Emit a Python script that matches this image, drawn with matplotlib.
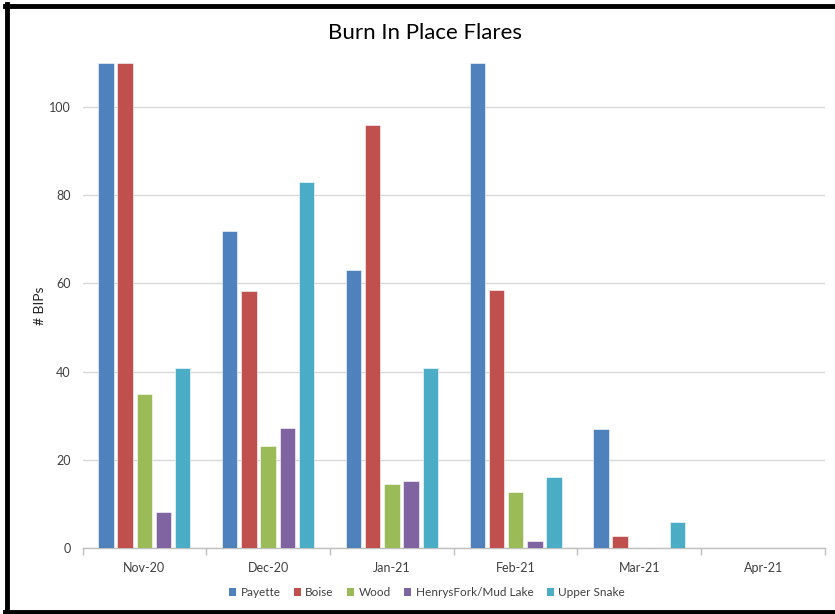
import numpy as np
import matplotlib.pyplot as plt
from matplotlib.lines import Line2D
from matplotlib.patches import Patch

plt.rcParams['font.family'] = ['Lato', 'DejaVu Sans']

months = ["Nov-20", "Dec-20", "Jan-21", "Feb-21", "Mar-21", "Apr-21"]
payette = [110, 72, 63, 110, 27, 0]
boise = [110, 58.4, 96, 58.5, 2.8, 0]
wood = [35, 23.1, 14.5, 12.7, 0, 0]
henrys = [8.1, 27.3, 15.2, 1.7, 0, 0]
upper_snake = [40.8, 83, 40.8, 16.1, 5.9, 0]

series = [
    ("Payette", payette, "#4F81BD"),
    ("Boise", boise, "#C0504D"),
    ("Wood", wood, "#9BBB59"),
    ("HenrysFork/Mud Lake", henrys, "#8064A2"),
    ("Upper Snake", upper_snake, "#4BACC6"),
]

W, H = 835, 614
fig = plt.figure(figsize=(W / 100, H / 100), dpi=100)
ax = fig.add_axes([82.5 / W, 1 - 548 / H, (825 - 82.5) / W, (548 - 63) / H])

x = np.arange(len(months))
pitch = 0.155
for i, (name, vals, col) in enumerate(series):
    ax.bar(x + (i - 2) * pitch, vals, width=0.125, color=col, label=name,
           edgecolor="white", linewidth=0.4, zorder=3)

ax.set_xlim(-0.5, len(months) - 0.5)
ax.set_ylim(0, 110)
ax.set_yticks(range(0, 101, 20))
ax.yaxis.grid(True, color="#D9D9D9", linewidth=1.0, zorder=0)
ax.set_xticks(x)
ax.set_xticklabels(months)
ax.set_xticks(np.arange(-0.5, len(months), 1), minor=True)
ax.tick_params(axis="x", which="major", length=0, pad=10, labelsize=9, colors="#404040")
ax.tick_params(axis="x", which="minor", length=5, color="#BFBFBF", width=1)
ax.tick_params(axis="y", length=0, pad=8.5, labelsize=9, colors="#404040")
for s in ["top", "right", "left"]:
    ax.spines[s].set_visible(False)
ax.spines["bottom"].set_color("#BFBFBF")
ax.spines["bottom"].set_linewidth(1)

fig.text(40 / W, 1 - 306 / H, "# BIPs", fontsize=10, rotation=90,
         ha="center", va="center", color="#262626")
fig.text(425 / W, 1 - 33 / H, "Burn In Place Flares", fontsize=16,
         ha="center", va="center", color="#000000")

handles = [Patch(facecolor=c, edgecolor="none") for _, _, c in series]
fig.legend(handles, [n for n, _, _ in series], loc="center",
           bbox_to_anchor=(427 / W, 1 - 592.5 / H), ncol=5, frameon=False,
           fontsize=8.5, handlelength=0.6, handleheight=0.6, handletextpad=0.35,
           columnspacing=1.15, labelcolor="#404040")

# outer frame
fig.add_artist(Line2D([7 / W, 7 / W], [0, 1 - 4 / H], transform=fig.transFigure,
                      color="black", linewidth=3.5))
fig.add_artist(Line2D([5 / W, 1], [1 - 5.5 / H, 1 - 5.5 / H], transform=fig.transFigure,
                      color="black", linewidth=3.5))
fig.add_artist(Line2D([5 / W, 1], [1 - 612 / H, 1 - 612 / H], transform=fig.transFigure,
                      color="black", linewidth=3.5))

fig.savefig("out.png", dpi=100)
